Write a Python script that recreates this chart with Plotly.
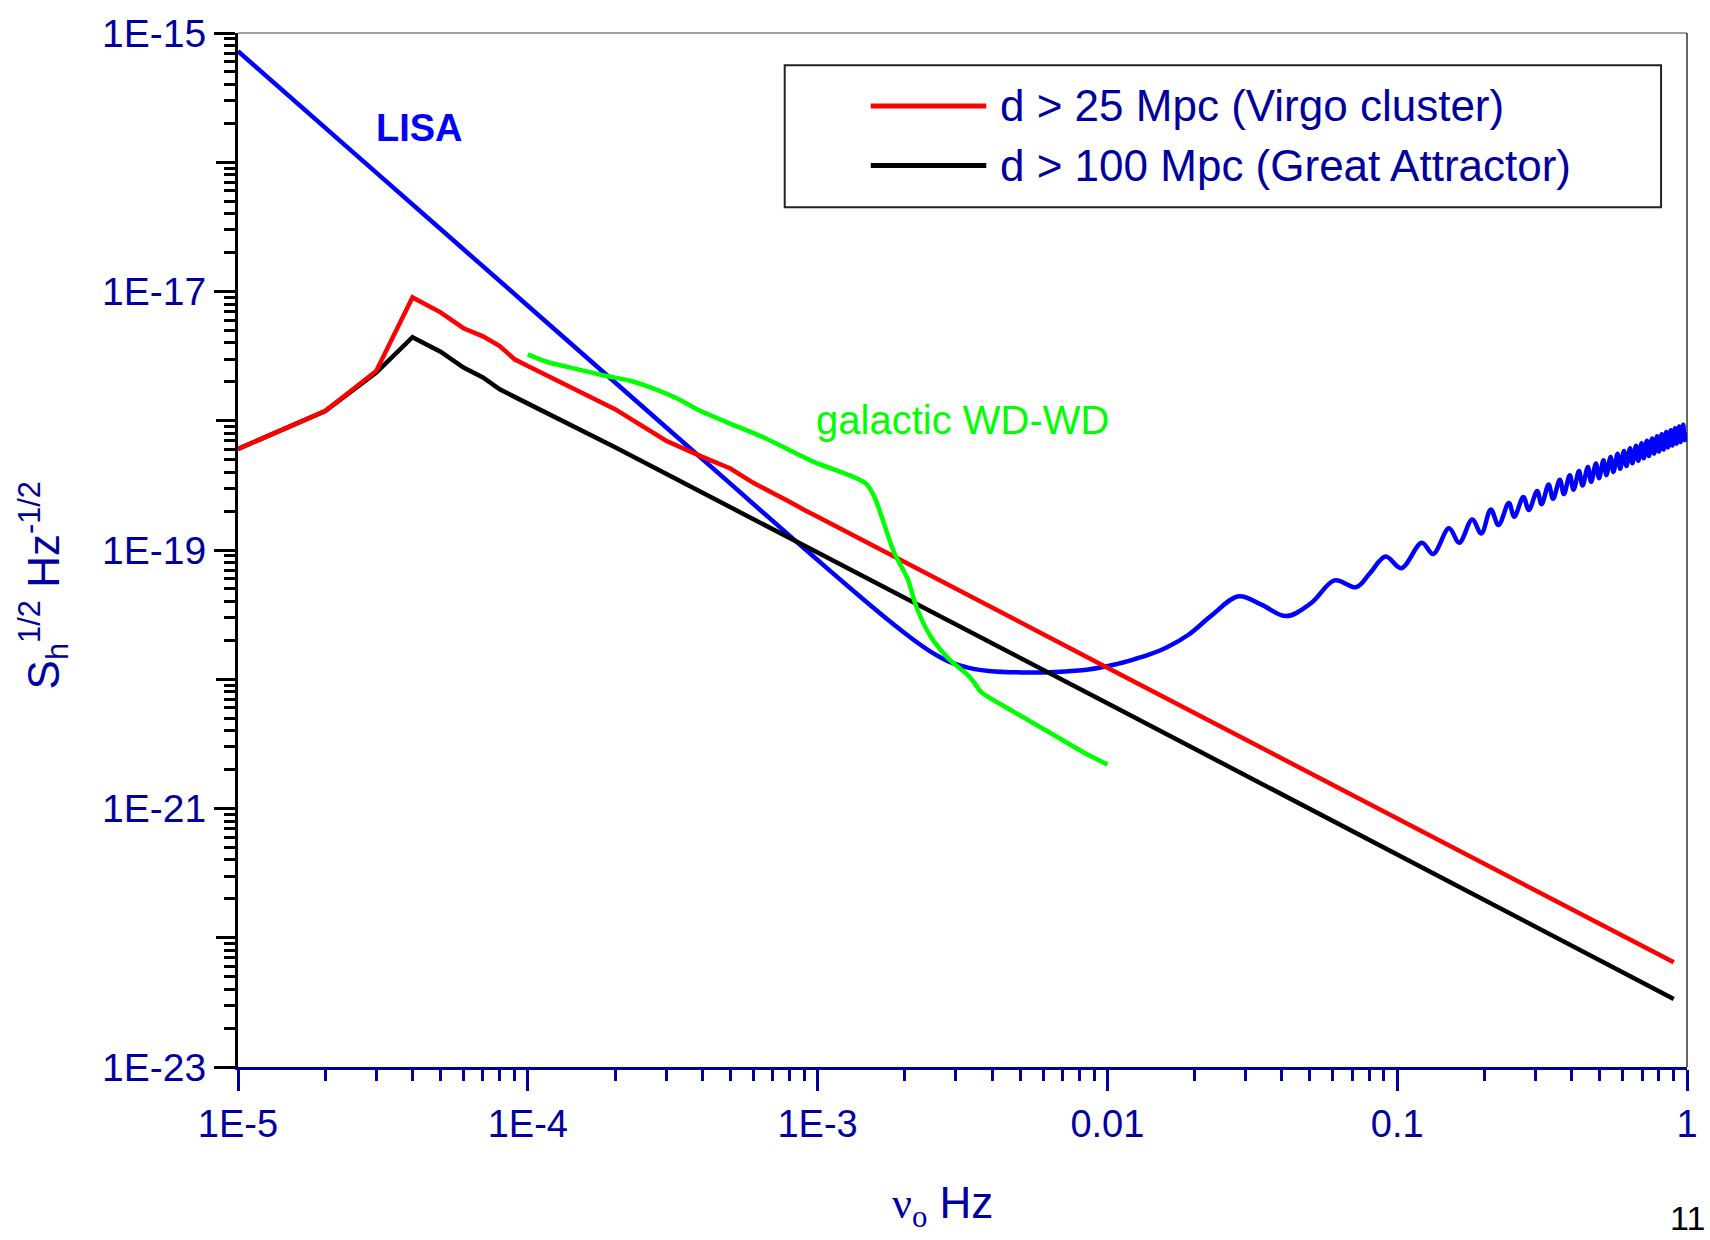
import plotly.graph_objects as go

# ---------------- data ----------------
lisa_f = [1e-5, 3.16e-5, 1e-4, 3.16e-4, 5e-4, 6.5e-4, 8.2e-4, 1.0e-3, 1.285e-3, 1.51e-3,
          1.77e-3, 2.07e-3, 2.43e-3, 2.84e-3, 3.33e-3, 3.9e-3, 5.07e-3, 6.6e-3, 8.6e-3,
          0.0106, 0.0124, 0.0139, 0.016, 0.0191, 0.0229, 0.0284, 0.034, 0.0414, 0.0505,
          0.0608, 0.0723, 0.0805, 0.0912, 0.1033, 0.1216, 0.133, 0.1509, 0.1637, 0.1815,
          0.195, 0.2104, 0.2236, 0.2428, 0.2535, 0.2725, 0.2846, 0.304, 0.315, 0.333,
          0.345, 0.364, 0.376, 0.394, 0.406, 0.424, 0.436, 0.455, 0.467, 0.485, 0.497,
          0.515, 0.527, 0.545, 0.557, 0.576, 0.588, 0.606, 0.618, 0.636, 0.648, 0.667,
          0.679, 0.697, 0.709, 0.727, 0.739, 0.758, 0.770, 0.788, 0.800, 0.818, 0.830,
          0.848, 0.860, 0.879, 0.891, 0.909, 0.921, 0.939, 0.951, 0.970, 0.982, 1.0]
lisa_h = [7.24e-16, 7.5e-17, 7.76e-18, 8.04e-19, 3.26e-19, 1.94e-19, 1.23e-19, 8.36e-20, 5.15e-20, 3.79e-20,
          2.82e-20, 2.14e-20, 1.66e-20, 1.37e-20, 1.225e-20, 1.16e-20, 1.13e-20, 1.14e-20, 1.19e-20,
          1.30e-20, 1.43e-20, 1.55e-20, 1.76e-20, 2.22e-20, 3.12e-20, 4.39e-20, 3.78e-20, 3.08e-20, 3.89e-20,
          5.82e-20, 5.16e-20, 6.61e-20, 8.89e-20, 7.23e-20, 1.14e-19, 9.31e-20, 1.47e-19, 1.14e-19, 1.72e-19,
          1.34e-19, 2.06e-19, 1.56e-19, 2.31e-19, 1.81e-19, 2.57e-19, 2.04e-19, 2.86e-19, 2.26e-19, 3.21e-19,
          2.49e-19, 3.50e-19, 2.71e-19, 3.79e-19, 2.93e-19, 4.08e-19, 3.15e-19, 4.38e-19, 3.37e-19, 4.67e-19, 3.59e-19,
          4.95e-19, 3.80e-19, 5.25e-19, 4.02e-19, 5.55e-19, 4.25e-19, 5.83e-19, 4.46e-19, 6.12e-19, 4.68e-19, 6.41e-19,
          4.90e-19, 6.70e-19, 5.12e-19, 7.00e-19, 5.33e-19, 7.29e-19, 5.56e-19, 7.59e-19, 5.77e-19, 7.87e-19, 5.98e-19,
          8.17e-19, 6.21e-19, 8.45e-19, 6.43e-19, 8.75e-19, 6.64e-19, 9.04e-19, 6.86e-19, 9.33e-19, 7.08e-19, 8.1e-19]

virgo_f = [1e-5, 2e-5, 3e-5, 4e-5, 5e-5, 6e-5, 7e-5, 8e-5, 9e-5, 1e-4, 2e-4, 3e-4, 4e-4,
           5e-4, 6e-4, 7e-4, 8e-4, 9e-4, 1e-3, 0.01, 0.1, 0.9]
virgo_h = [6.05e-19, 1.19e-18, 2.43e-18, 9.0e-18, 6.9e-18, 5.2e-18, 4.5e-18, 3.78e-18, 2.99e-18,
           2.65e-18, 1.23e-18, 7.0e-19, 5.25e-19, 4.27e-19, 3.31e-19, 2.73e-19, 2.36e-19, 2.04e-19,
           1.81e-19, 1.23e-20, 8.4e-22, 6.45e-23]

ga_f = [1e-5, 2e-5, 3e-5, 4e-5, 5e-5, 6e-5, 7e-5, 8e-5, 9e-5, 1e-4, 2e-4, 3e-4, 5e-4, 1e-3,
        0.01, 0.1, 0.9]
ga_h = [6.05e-19, 1.19e-18, 2.36e-18, 4.43e-18, 3.42e-18, 2.58e-18, 2.16e-18, 1.75e-18, 1.53e-18,
        1.36e-18, 6.24e-19, 3.89e-19, 2.16e-19, 9.55e-20, 6.52e-21, 4.44e-22, 3.36e-23]

wd_f = [1e-4, 1.16e-4, 1.49e-4, 1.87e-4, 2.27e-4, 2.62e-4, 3.25e-4, 3.88e-4, 4.97e-4, 6.6e-4,
        9.75e-4, 1.25e-3, 1.47e-3, 1.57e-3, 1.68e-3, 1.84e-3, 2.04e-3, 2.2e-3, 2.45e-3, 2.84e-3,
        3.28e-3, 3.47e-3, 3.66e-3, 4.57e-3, 6.3e-3, 8.2e-3, 0.01]
wd_h = [3.26e-18, 2.86e-18, 2.50e-18, 2.22e-18, 2.03e-18, 1.83e-18, 1.50e-18, 1.21e-18, 9.55e-19, 7.33e-19,
        4.79e-19, 3.89e-19, 3.26e-19, 2.58e-19, 1.70e-19, 9.44e-20, 6.05e-20, 3.56e-20, 2.16e-20, 1.43e-20,
        1.09e-20, 9.44e-21, 8.0e-21, 5.89e-21, 3.89e-21, 2.75e-21, 2.19e-21]

x_major = [1e-5, 1e-4, 1e-3, 0.01, 0.1, 1]
x_labels = ["1E-5", "1E-4", "1E-3", "0.01", "0.1", "1"]
y_labeled = [1e-23, 1e-21, 1e-19, 1e-17, 1e-15]
y_labels = ["1E-23", "1E-21", "1E-19", "1E-17", "1E-15"]
y_unlabeled = [1e-22, 1e-20, 1e-18, 1e-16]

legend_names = ["d > 25 Mpc (Virgo cluster)", "d > 100 Mpc (Great Attractor)"]

x_minor = [m * d for d in [1e-5, 1e-4, 1e-3, 1e-2, 1e-1] for m in range(2, 10)]
y_minor = [m * d for d in [1e-23, 1e-22, 1e-21, 1e-20, 1e-19, 1e-18, 1e-17, 1e-16] for m in range(2, 10)]

# ---------------- styles ----------------
NAVY = "#0000A0"
FONT = "Liberation Sans, Arial, sans-serif"
LW = 4.5

fig = go.Figure()
fig.add_trace(go.Scatter(x=lisa_f, y=lisa_h, mode="lines", name="LISA",
                         line=dict(color="#0000FF", width=LW, shape="spline", smoothing=1.0),
                         showlegend=False))
fig.add_trace(go.Scatter(x=ga_f, y=ga_h, mode="lines", name=legend_names[1],
                         line=dict(color="#000000", width=LW), showlegend=False))
fig.add_trace(go.Scatter(x=virgo_f, y=virgo_h, mode="lines", name=legend_names[0],
                         line=dict(color="#FF0000", width=LW), showlegend=False))
fig.add_trace(go.Scatter(x=wd_f, y=wd_h, mode="lines", name="galactic WD-WD",
                         line=dict(color="#00FF00", width=LW, shape="spline", smoothing=0.8),
                         showlegend=False))
# empty helper trace so the overlaid tick-only axis is drawn
fig.add_trace(go.Scatter(x=[], y=[], yaxis="y2", showlegend=False, hoverinfo="skip"))

fig.update_layout(
    width=1710, height=1240,
    margin=dict(l=238, r=21, t=27, b=173),
    paper_bgcolor="white", plot_bgcolor="white",
    font=dict(family=FONT, color=NAVY),
    xaxis=dict(type="log", range=[-5, 0], showgrid=False, zeroline=False,
               showline=True, linecolor=NAVY, linewidth=3,
               ticks="outside", ticklen=21, tickwidth=3, tickcolor=NAVY,
               tickmode="array", tickvals=x_major, ticktext=x_labels,
               tickfont=dict(family=FONT, size=38, color=NAVY),
               minor=dict(tickmode="array", tickvals=x_minor, ticks="outside", ticklen=11,
                          tickwidth=3, tickcolor=NAVY, showgrid=False)),
    yaxis=dict(type="log", range=[-23, -15], showgrid=False, zeroline=False,
               showline=True, linecolor="black", linewidth=3,
               ticks="outside", ticklen=21, tickwidth=3, tickcolor="black",
               tickmode="array", tickvals=y_labeled, ticktext=y_labels,
               tickfont=dict(family=FONT, size=39, color=NAVY),
               minor=dict(tickmode="array", tickvals=y_minor, ticks="outside", ticklen=11,
                          tickwidth=3, tickcolor="black", showgrid=False)),
    yaxis2=dict(type="log", range=[-23, -15], overlaying="y", anchor="x", side="left",
                showgrid=False, zeroline=False, showline=False, showticklabels=False,
                ticks="outside", ticklen=21, tickwidth=3, tickcolor="black",
                tickmode="array", tickvals=y_unlabeled),
)

# frame (top and right)
fig.add_shape(type="line", xref="paper", yref="paper", x0=0, x1=1, y0=1, y1=1,
              line=dict(color="#808080", width=1.5), layer="below")
fig.add_shape(type="line", xref="paper", yref="paper", x0=1, x1=1, y0=0, y1=1,
              line=dict(color="#333333", width=1.5), layer="below")

# legend box
fig.add_shape(type="rect", xref="paper", yref="paper", x0=0.3773, x1=0.9821, y0=0.8314, y1=0.9687,
              line=dict(color="#222222", width=2), fillcolor="white", layer="below")
legend_colors = ["#FF0000", "#000000"]
legend_y = [0.9295, 0.8718]
for name, col, ly in zip(legend_names, legend_colors, legend_y):
    fig.add_shape(type="line", xref="paper", yref="paper", x0=0.4367, x1=0.5164, y0=ly, y1=ly,
                  line=dict(color=col, width=5))
    fig.add_annotation(xref="paper", yref="paper", x=0.5245, y=ly, xanchor="left", yanchor="middle",
                       text=name, showarrow=False, font=dict(family=FONT, size=44, color=NAVY))

# labels
fig.add_annotation(xref="paper", yref="paper", x=0.1254, y=0.9084, xanchor="center", yanchor="middle",
                   text="<b>LISA</b>", showarrow=False, font=dict(family=FONT, size=38, color="#0000FF"))
fig.add_annotation(xref="paper", yref="paper", x=0.3977, y=0.626, xanchor="left", yanchor="middle",
                   text="galactic WD-WD", showarrow=False, font=dict(family=FONT, size=40, color="#00FF00"))

# axis titles
fig.add_annotation(xref="paper", yref="paper", x=-0.1344, y=0.466, xanchor="center", yanchor="middle",
                   textangle=-90, text="S<sub>h</sub><sup>1/2</sup> Hz<sup>-1/2</sup>", showarrow=False,
                   font=dict(family=FONT, size=44, color=NAVY))
fig.add_annotation(xref="paper", yref="paper", x=0.486, y=-0.134, xanchor="center", yanchor="middle",
                   text="<span style='font-family:Liberation Serif'>ν<sub>o</sub></span> Hz",
                   showarrow=False, font=dict(family=FONT, size=44, color=NAVY))
# page number
fig.add_annotation(xref="paper", yref="paper", x=1.0, y=-0.1666, xanchor="center", yanchor="bottom",
                   text="11", showarrow=False, font=dict(family=FONT, size=34, color="black"))

fig.write_html("out.html")
